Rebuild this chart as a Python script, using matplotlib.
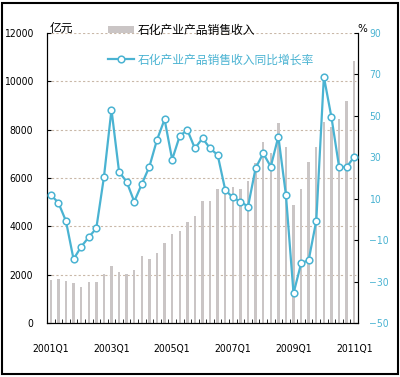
import matplotlib.pyplot as plt
from matplotlib.patches import Rectangle
import numpy as np

plt.rcParams['font.family'] = ['Noto Sans CJK SC', 'DejaVu Sans']

# quarters 2001Q1 .. 2011Q1
quarters = [f'{y}Q{q}' for y in range(2001, 2012) for q in range(1, 5)][:41]
tick_labels = ['2001Q1', '2003Q1', '2005Q1', '2007Q1', '2009Q1', '2011Q1']

# 石化产业产品销售收入, 亿元
revenue = [1780, 1835, 1750, 1640, 1500, 1700, 1700, 2030, 2360, 2120,
           2030, 2190, 2770, 2660, 2910, 3320, 3670, 3810, 4190, 4440,
           5060, 5060, 5530, 5620, 5640, 5530, 5880, 6620, 7500, 7030,
           8280, 7300, 4880, 5530, 6680, 7300, 8330, 8100, 8430, 9190,
           10850]
# 同比增长率, %
growth = [11.8, 8.1, -0.8, -19.2, -13.2, -8.6, -4.3, 20.3, 53.0, 23.0,
          18.2, 8.6, 17.1, 25.5, 38.4, 48.3, 28.9, 40.3, 43.2, 34.3,
          39.2, 34.3, 31.1, 14.2, 10.6, 8.6, 6.2, 24.7, 31.9, 25.5,
          40.0, 11.8, -35.7, -21.2, -19.6, -0.6, 68.9, 49.3, 25.5, 25.2,
          30.3]

BAR_COLOR = '#cac5c5'
LINE_COLOR = '#4ab3d2'
NUM_FONT = ['DejaVu Sans']
NUM_SIZE = 7.5


def style_nums(labels):
    for lab in labels:
        lab.set_family(NUM_FONT)
        lab.set_stretch('condensed')
        lab.set_fontsize(NUM_SIZE)


fig = plt.figure(figsize=(4.0, 3.77), dpi=100)
fig.patches.append(Rectangle((0.005, 0.008), 0.99, 0.985, transform=fig.transFigure,
                             fill=False, edgecolor='black', linewidth=1.5))

ax = fig.add_axes([0.1175, 0.1432, 0.7775, 0.7693])
x = np.arange(len(quarters))
bars = ax.bar(x, revenue, width=0.32, color=BAR_COLOR, zorder=2,
              label='石化产业产品销售收入')
ax.set_xlim(-0.4, 40.5)
ax.set_ylim(0, 12000)
ax.set_yticks(range(0, 12001, 2000))
ax.yaxis.grid(True, linestyle=(0, (2, 2)), color='#c9b8a8', linewidth=0.8, zorder=1)
ax.set_xticks(x - 0.5, minor=True)
ax.set_xticks([quarters.index(t) for t in tick_labels])
ax.set_xticklabels(tick_labels)
ax.tick_params(axis='x', which='major', length=0, pad=15)
ax.tick_params(axis='x', which='minor', direction='in', length=3)
ax.tick_params(axis='y', direction='in', length=3, pad=10)
style_nums(ax.get_xticklabels() + ax.get_yticklabels())
ax.spines['top'].set_visible(False)

ax2 = ax.twinx()
line, = ax2.plot(x, growth, color=LINE_COLOR, linewidth=1.6, marker='o',
                 markersize=4.8, markerfacecolor='white', markeredgecolor=LINE_COLOR,
                 markeredgewidth=1.1, zorder=3, label='石化产业产品销售收入同比增长率')
ax2.set_ylim(-50, 90)
ax2.set_yticks(range(-50, 91, 20))
ax2.tick_params(axis='y', direction='in', length=3, pad=8, labelcolor=LINE_COLOR)
style_nums(ax2.get_yticklabels())
ax2.spines['top'].set_visible(False)

fig.text(0.125, 0.925, '亿元', fontsize=8.5, va='center')
fig.text(0.893, 0.922, '%', fontsize=7.5, va='center', family=NUM_FONT)

leg = ax.legend([bars, line], [bars.get_label(), line.get_label()],
                loc='upper left', bbox_to_anchor=(0.243, 0.965),
                bbox_transform=fig.transFigure, frameon=False, fontsize=8.5,
                handlelength=2.2, handleheight=0.6, handletextpad=0.3,
                labelspacing=1.4)
leg.get_texts()[1].set_color(LINE_COLOR)
leg.set_zorder(5)

fig.savefig('out.png', dpi=100)
